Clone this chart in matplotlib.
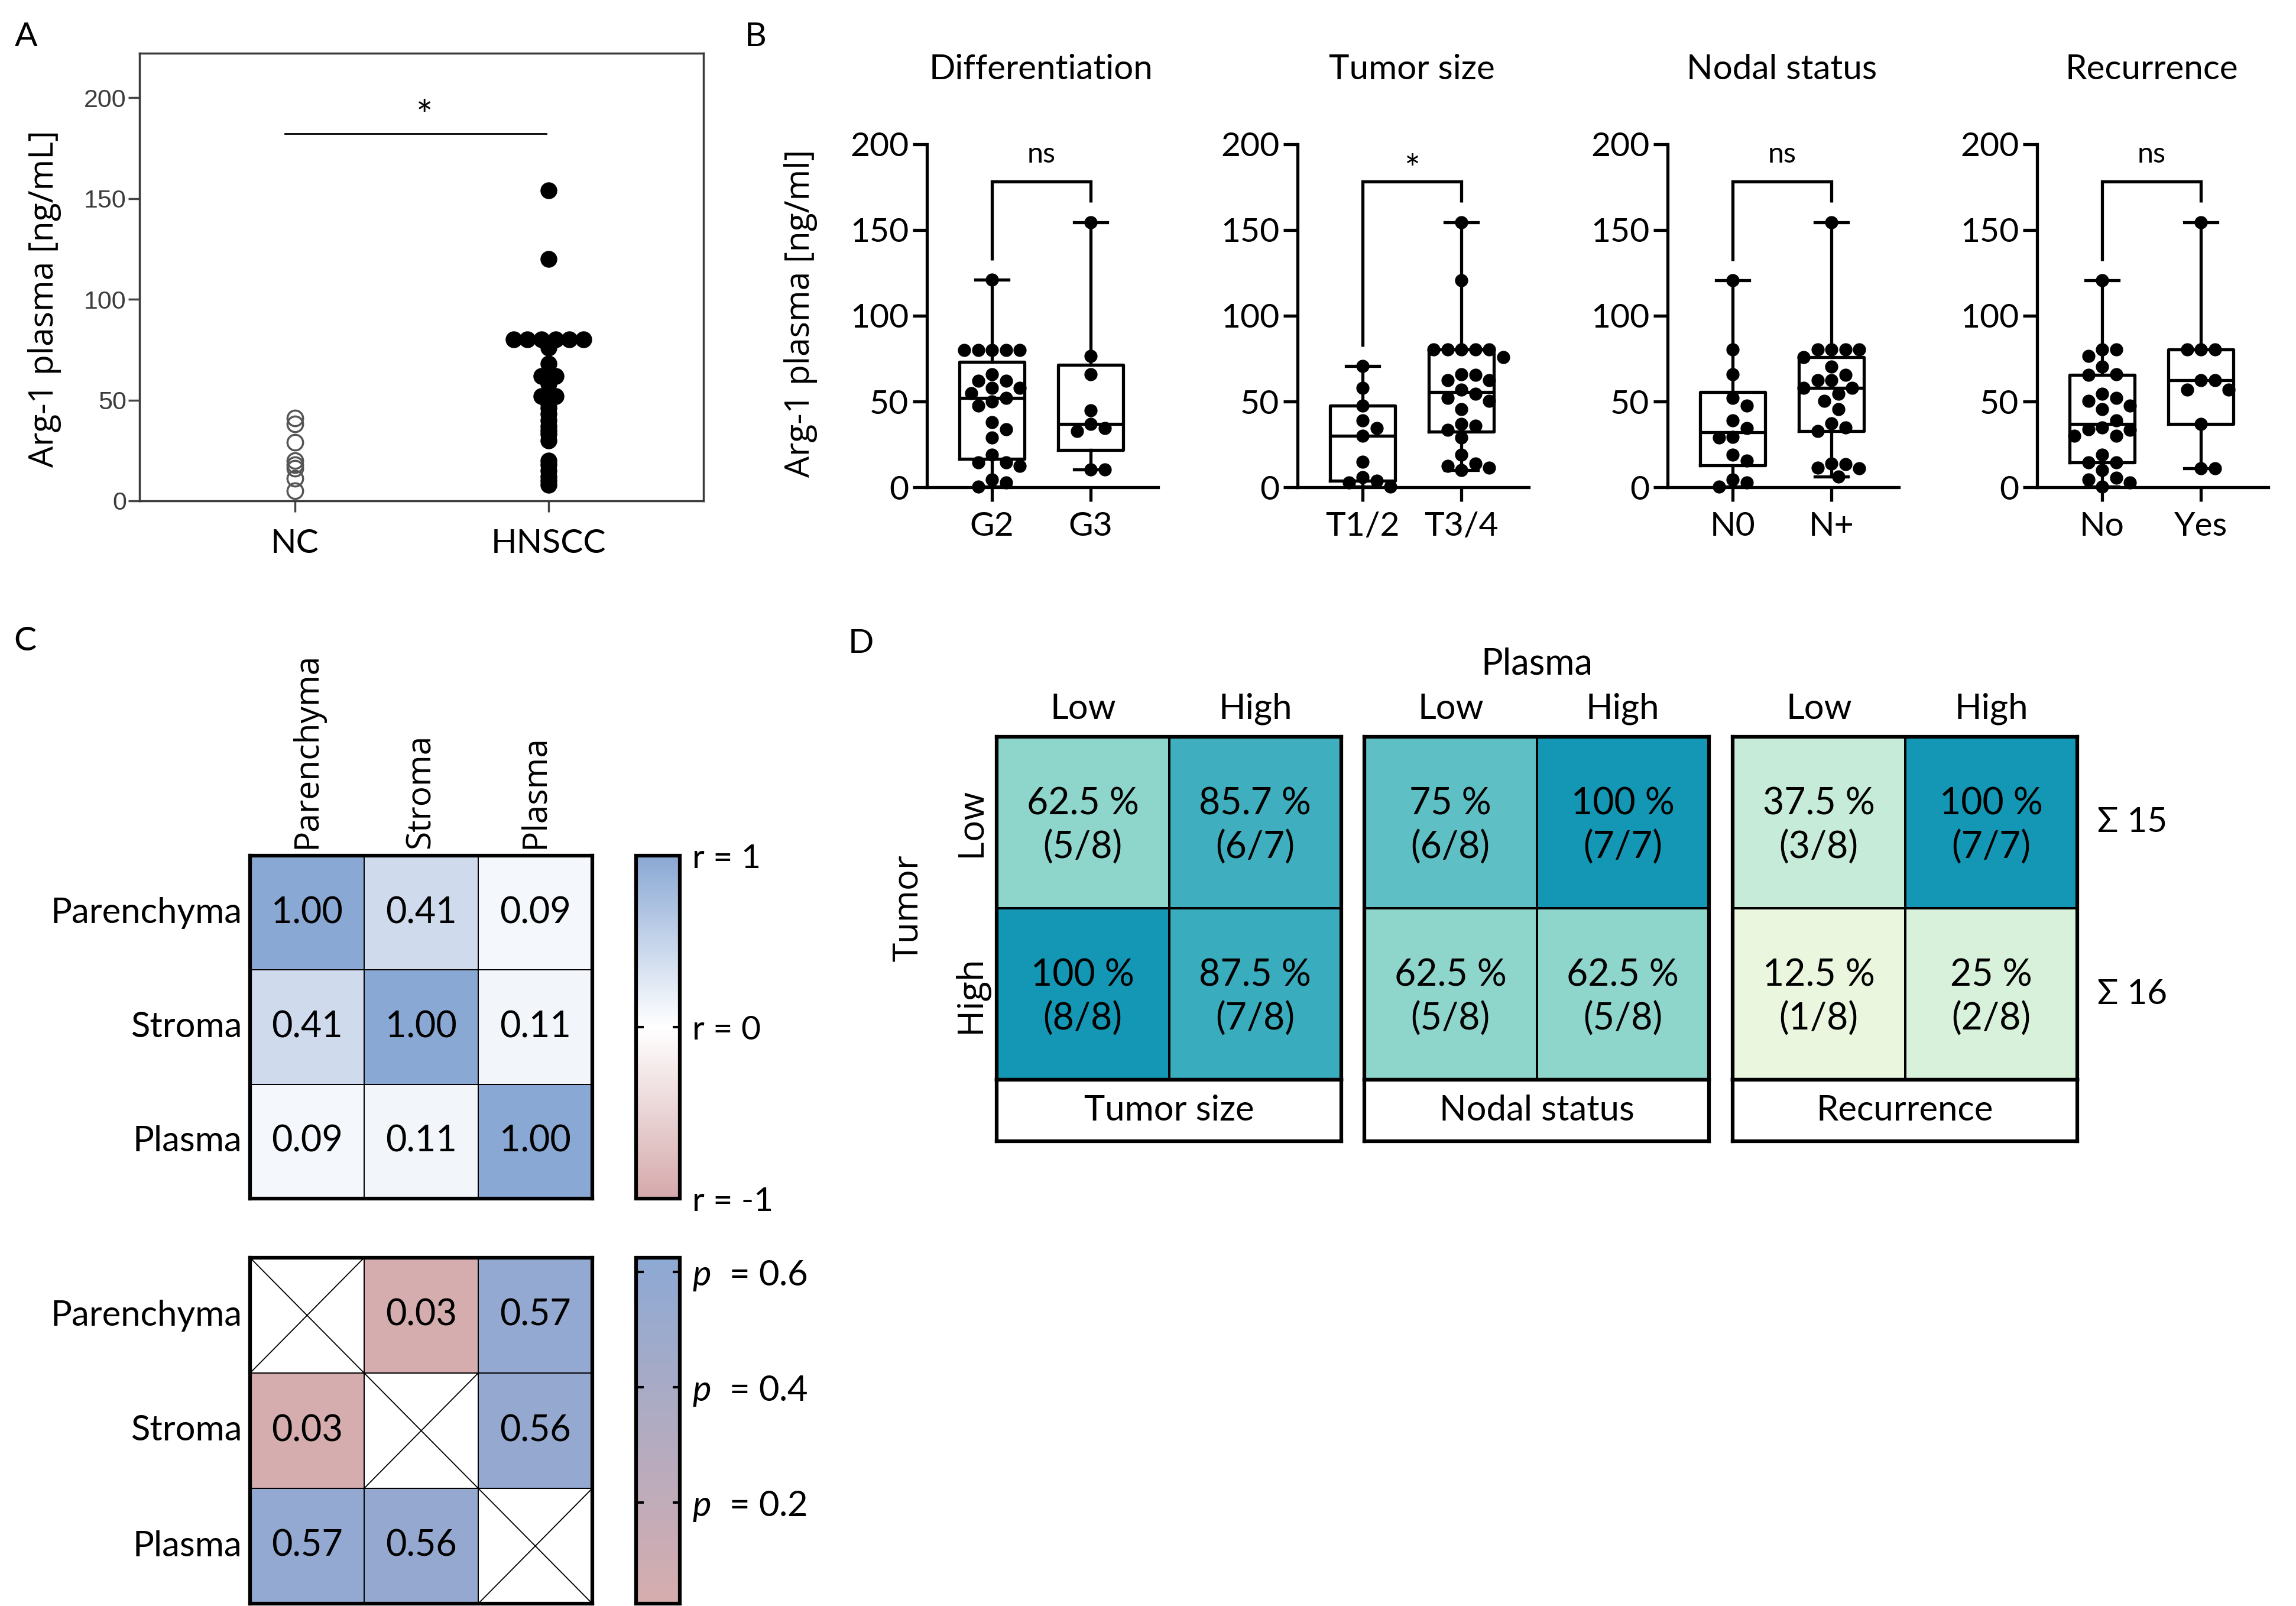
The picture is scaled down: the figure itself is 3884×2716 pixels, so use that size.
import numpy as np
import matplotlib
matplotlib.use("Agg")
import matplotlib.pyplot as plt
from matplotlib.colors import LinearSegmentedColormap, Normalize
import matplotlib.cm as cm

plt.rcParams['font.family'] = ['Lato', 'DejaVu Sans']
plt.rcParams['mathtext.fontset'] = 'custom'
plt.rcParams['mathtext.it'] = 'Lato:italic'
plt.rcParams['mathtext.rm'] = 'Lato'

# ---------------- DATA ----------------
# Panel A
nc_values = [5, 11, 16, 18, 20, 29, 38, 41]
hnscc_values = [154, 120, 80, 80, 80, 80, 80, 80, 76, 68, 63, 62, 62, 58, 54, 52, 52,
                48, 46, 43, 40, 37, 35, 33, 30, 20, 18, 15, 12, 10, 8]
a_categories = ["NC", "HNSCC"]

# Panel B
b_titles = ["Differentiation", "Tumor size", "Nodal status", "Recurrence"]
b_categories = [["G2", "G3"], ["T1/2", "T3/4"], ["N0", "N+"], ["No", "Yes"]]
b_sig = ["ns", "*", "ns", "ns"]
diff_G2 = [121, 80, 80, 80, 80, 80, 66, 62, 62, 58, 58, 55, 52, 50, 47.5, 38, 34, 29,
           19, 14.5, 14.5, 12.5, 4.5, 3, 0.5]
diff_G3 = [154.5, 76.5, 66, 45, 37, 33, 34.5, 10.5, 10.5]
size_T12 = [70.7, 58, 47.5, 39, 34.5, 30, 15, 6, 3, 4, 0.5]
size_T34 = [154.5, 120.5, 80.5, 80.5, 80.5, 80.5, 80.5, 76, 66, 65.5, 62.3, 62.3, 57,
            54.5, 52, 50.5, 45.5, 37, 36, 33.5, 29, 19, 14, 12.5, 11.5, 10]
nodal_N0 = [120.5, 80.3, 66, 52, 47.5, 39, 34.5, 29.5, 29, 19, 15.5, 4.5, 3, 0.5]
nodal_Np = [154.5, 80.3, 80.3, 80.3, 80.3, 76, 70.5, 65.5, 62.3, 62.3, 58, 58, 54.5,
            50.5, 45.5, 37.5, 35, 33, 13.5, 11.5, 11, 14, 6.5]
rec_No = [120.5, 80.3, 80.3, 76.5, 70.5, 66, 65.5, 54.5, 50.5, 52, 47.5, 45.5, 39, 35,
          33.5, 34, 30, 30, 19, 14.5, 14.5, 10, 5.5, 4.5, 3, 0.5]
rec_Yes = [154.5, 80.3, 80.3, 80.3, 62.3, 62.3, 57, 57, 37, 11.3, 11.3]
b_groups = [(diff_G2, diff_G3), (size_T12, size_T34), (nodal_N0, nodal_Np), (rec_No, rec_Yes)]

# Panel C
c_labels = ["Parenchyma", "Stroma", "Plasma"]
corr_r = [[1.00, 0.41, 0.09],
          [0.41, 1.00, 0.11],
          [0.09, 0.11, 1.00]]
corr_p = [[np.nan, 0.03, 0.57],
          [0.03, np.nan, 0.56],
          [0.57, 0.56, np.nan]]
r_ticks = [-1, 0, 1]
p_ticks = [0.2, 0.4, 0.6]

# Panel D
d_blocks = ["Tumor size", "Nodal status", "Recurrence"]
d_levels = ["Low", "High"]
d_pct = [[[62.5, 85.7], [100, 87.5]],
         [[75, 100], [62.5, 62.5]],
         [[37.5, 100], [12.5, 25]]]
d_frac = [[["5/8", "6/7"], ["8/8", "7/8"]],
          [["6/8", "7/7"], ["5/8", "5/8"]],
          [["3/8", "7/7"], ["1/8", "2/8"]]]
d_row_totals = [15, 16]

# ---------------- FIGURE ----------------
W, H = 3884, 2716
fig = plt.figure(figsize=(W / 100, H / 100), dpi=100)


def ax_px(l, t, r, b):
    return fig.add_axes([l / W, 1 - b / H, (r - l) / W, (b - t) / H])


def ftext(x, y, s, **kw):
    kw.setdefault('ha', 'center')
    kw.setdefault('va', 'center')
    return fig.text(x / W, 1 - y / H, s, **kw)


# panel letters
for lab, (x, y) in zip("ABCD", [(44, 62), (1278, 62), (42, 1085), (1456, 1088)]):
    ftext(x, y, lab, fontsize=41)

# ---------------- PANEL A ----------------
axA = ax_px(236, 90, 1190, 847)
axA.set_xlim(-0.613, 1.611)
axA.set_ylim(0, 222)
axA.plot(np.zeros(len(nc_values)), nc_values, 'o', ms=19, mfc='none', mec='#555555',
         mew=2.5, clip_on=False, zorder=3)
hv = np.asarray(hnscc_values, dtype=float)
hx = np.zeros(len(hv))
spacing_a = 0.0553
for v in np.unique(hv):
    idx = np.where(hv == v)[0]
    k = len(idx)
    hx[idx] = (np.arange(k) - (k - 1) / 2) * spacing_a
axA.plot(1 + hx, hv, 'o', ms=19.5, color='black', clip_on=False, zorder=3)
for s in axA.spines.values():
    s.set_linewidth(2.5)
    s.set_color('#3a3a3a')
axA.set_yticks([0, 50, 100, 150, 200])
axA.set_yticklabels(['0', '50', '100', '150', '200'], fontfamily='Liberation Sans',
                    fontsize=31, color='#3c3c3c')
axA.set_xticks([0, 1])
axA.set_xticklabels(a_categories, fontsize=41)
axA.tick_params(axis='y', length=14, width=2.5, color='#444444', pad=2)
axA.tick_params(axis='x', length=14, width=2.5, color='#444444', pad=20)
axA.plot([-0.04, 0.99], [182, 182], color='black', lw=2)
axA.text(0.51, 190, '*', fontsize=48, ha='center', va='center')
ftext(76, 505, 'Arg-1 plasma [ng/mL]', rotation=90, fontsize=41, fontfamily='Open Sans')

# ---------------- PANEL B ----------------
def swarm(vals, diam, ppx, ppy):
    vals = np.asarray(vals, dtype=float)
    order = np.argsort(-vals, kind='stable')
    placed = []
    offs = np.zeros(len(vals))
    step = diam / 2
    cands = [0] + [s * m for m in range(1, 30) for s in (1, -1)]
    for i in order:
        y = vals[i] * ppy
        for c in cands:
            x = c * step
            if all((x - px) ** 2 + (y - py) ** 2 >= (diam * 0.98) ** 2 for px, py in placed):
                break
        placed.append((x, y))
        offs[i] = x / ppx
    return offs


y_axes_x = [1568, 2195, 2821, 3446]
B_TOP, B_BOT = 243.6, 824.4
ppu_x = 167.0
ppu_y = (B_BOT - B_TOP) / 200.0
LW = 3.8
for k, xa in enumerate(y_axes_x):
    ax = ax_px(xa, B_TOP, xa + 391, B_BOT)
    ax.set_xlim(-110 / ppu_x, 1 + 114 / ppu_x)
    ax.set_ylim(0, 200)
    for s in ['top', 'right']:
        ax.spines[s].set_visible(False)
    for s in ['left', 'bottom']:
        ax.spines[s].set_linewidth(LW)
    ax.set_yticks([0, 50, 100, 150, 200])
    ax.set_xticks([0, 1])
    ax.set_xticklabels(b_categories[k])
    ax.tick_params(axis='both', length=17, width=LW, labelsize=41)
    ax.tick_params(axis='y', pad=5)
    ax.tick_params(axis='x', pad=12)
    for pos, vals in enumerate(b_groups[k]):
        v = np.asarray(vals, dtype=float)
        q1, med, q3 = np.percentile(v, [25, 50, 75], method='weibull')
        stats = [dict(med=med, q1=q1, q3=q3, whislo=v.min(), whishi=v.max(), fliers=[])]
        props = dict(color='black', linewidth=LW)
        ax.bxp(stats, positions=[pos], widths=0.66, capwidths=0.335, showfliers=False,
               manage_ticks=False, boxprops=props, whiskerprops=props, capprops=props,
               medianprops=props, zorder=2)
        offs = swarm(v, 23.5, ppu_x, ppu_y)
        ax.plot(pos + offs, v, 'o', ms=15, color='black', clip_on=False, zorder=3)
    m0 = max(b_groups[k][0]) + 11.5
    m1 = max(b_groups[k][1]) + 11.5
    ax.plot([0, 0, 1, 1], [m0, 178, 178, m1], color='black', lw=LW,
            solid_joinstyle='miter', solid_capstyle='butt')
    if b_sig[k] == '*':
        ax.text(0.5, 184, '*', fontsize=46, ha='center', va='center')
    else:
        ax.text(0.5, 194, b_sig[k], fontsize=35, ha='center', va='center')
    ftext(xa + 193.5, 117, b_titles[k], fontsize=42)
ftext(1354, 530, 'Arg-1 plasma [ng/ml]', rotation=90, fontsize=41, fontfamily='Open Sans')

# ---------------- PANEL C ----------------
cmap_r = LinearSegmentedColormap.from_list('r', ['#D5A9AB', '#FFFFFF', '#8AA8D4'])
cmap_p = LinearSegmentedColormap.from_list('p', ['#D6ADAE', '#8DA9D4'])
cmap_p.set_bad('white')

for (top, bot, data, cmap, vmin, vmax) in [(1447, 2027, corr_r, cmap_r, -1, 1),
                                            (2127, 2712, corr_p, cmap_p, 0.025, 0.625)]:
    ax = ax_px(423, top, 1002, bot)
    arr = np.array(data, dtype=float)
    marr = np.ma.masked_invalid(arr)
    ax.pcolormesh(marr, cmap=cmap, vmin=vmin, vmax=vmax, edgecolors='black', linewidth=1.3)
    ax.set_xlim(0, 3)
    ax.set_ylim(3, 0)
    ax.set_xticks([])
    ax.set_yticks([])
    for s in ax.spines.values():
        s.set_linewidth(4.5)
    for i in range(3):
        for j in range(3):
            if np.isnan(arr[i, j]):
                ax.plot([j, j + 1], [i, i + 1], color='black', lw=1.3)
                ax.plot([j, j + 1], [i + 1, i], color='black', lw=1.3)
            else:
                ax.text(j + 0.5, i + 0.5, f"{arr[i, j]:.2f}", ha='center', va='center',
                        fontsize=44)
    ch = (bot - top) / 3
    for i, lab in enumerate(c_labels):
        ftext(409, top + ch * (i + 0.5), lab, ha='right', fontsize=43)
    cax = ax_px(1076, top, 1150, bot)
    sm = cm.ScalarMappable(norm=Normalize(vmin, vmax), cmap=cmap)
    if vmin < 0:
        cb = fig.colorbar(sm, cax=cax, ticks=r_ticks)
        cb.set_ticklabels([f"r = {t}" for t in r_ticks])
        lsize = 41
    else:
        cb = fig.colorbar(sm, cax=cax, ticks=p_ticks)
        cb.set_ticklabels([r"$\mathit{p}$  = " + f"{t:.1f}" for t in p_ticks])
        lsize = 43
    cb.outline.set_linewidth(4.5)
    cax.tick_params(direction='in', left=True, right=True, length=9, width=3,
                    labelsize=lsize, pad=15)

for j, lab in enumerate(c_labels):
    ftext(423 + 193 * (j + 0.5), 1435, lab, rotation=90, va='bottom', fontsize=41,
          fontfamily='Open Sans')

# ---------------- PANEL D ----------------
d_anchor_pos = [0, 12.5, 25, 37.5, 62.5, 75, 87.5, 100]
d_anchor_col = ['#F4FBE2', '#EAF7DE', '#D8F1DB', '#C6EBD9', '#8FD5CC', '#5FBFC4',
                '#3AADBE', '#1397B4']
cmap_d = LinearSegmentedColormap.from_list('d', list(zip([p / 100 for p in d_anchor_pos],
                                                         d_anchor_col)))
D_TOP, D_BOT, D_LAB = 1246, 1826, 1930
D_W = 583
d_lefts = [1686, 2308, 2931]
for b, l in enumerate(d_lefts):
    ax = ax_px(l, D_TOP, l + D_W, D_BOT)
    arr = np.array(d_pct[b], dtype=float)
    ax.pcolormesh(arr, cmap=cmap_d, vmin=0, vmax=100, edgecolors='black', linewidth=1.5)
    ax.set_xlim(0, 2)
    ax.set_ylim(2, 0)
    ax.set_xticks([])
    ax.set_yticks([])
    for s in ax.spines.values():
        s.set_linewidth(4.5)
    for i in range(2):
        for j in range(2):
            ax.text(j + 0.5, i + 0.52, f"{arr[i, j]:g} %\n({d_frac[b][i][j]})",
                    ha='center', va='center', fontsize=45, linespacing=1.3)
    axl = ax_px(l, D_BOT, l + D_W, D_LAB)
    axl.set_xticks([])
    axl.set_yticks([])
    for s in axl.spines.values():
        s.set_linewidth(4.5)
    axl.text(0.5, 0.5, d_blocks[b], ha='center', va='center', fontsize=43,
             transform=axl.transAxes)
    for j, lev in enumerate(d_levels):
        ftext(l + D_W * (j + 0.5) / 2, 1199, lev, fontsize=43)

ftext(d_lefts[1] + D_W / 2, 1123, 'Plasma', fontsize=44)
rh = (D_BOT - D_TOP) / 2
for i, lev in enumerate(d_levels):
    ftext(1642, D_TOP + rh * (i + 0.5), lev, rotation=90, fontsize=44, fontfamily='Open Sans')
    ftext(3548, D_TOP + rh * (i + 0.5), f"Σ {d_row_totals[i]}", ha='left', fontsize=42)
ftext(1537, (D_TOP + D_BOT) / 2, 'Tumor', rotation=90, fontsize=42, fontfamily='Open Sans')

fig.savefig('out.png', dpi=100)
